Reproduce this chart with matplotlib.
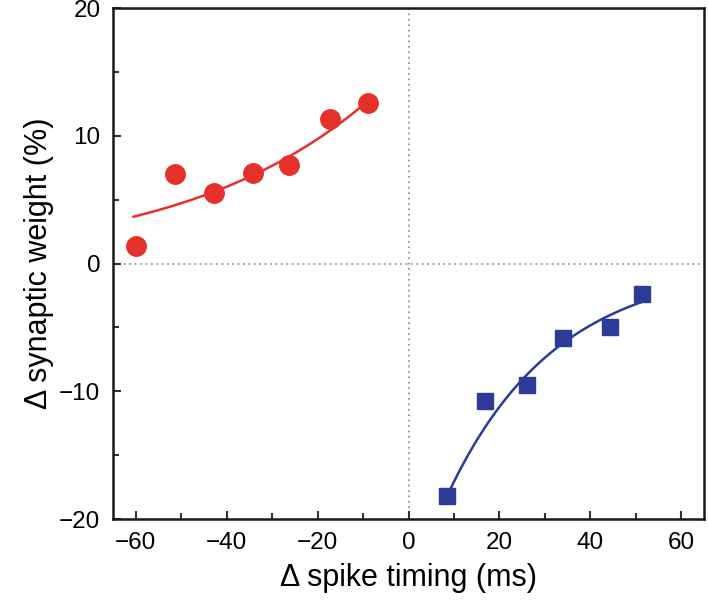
import numpy as np
import matplotlib.pyplot as plt
from matplotlib.ticker import MultipleLocator

plt.rcParams['font.family'] = ['Liberation Sans', 'DejaVu Sans']

# potenciación (pre antes que post)
ltp_dt = [-60, -51.3, -42.7, -34.3, -26.3, -17.3, -8.9]
ltp_dw = [1.4, 7.0, 5.5, 7.1, 7.7, 11.3, 12.6]
# depresión (post antes que pre)
ltd_dt = [8.5, 16.9, 26.1, 34.0, 44.4, 51.3]
ltd_dw = [-18.2, -10.8, -9.5, -5.8, -4.95, -2.35]

# ajustes exponenciales: amplitud, tau, rango
ltp_fit = (15.8, 41.4, -60.5, -9.0)
ltd_fit = (-26.0, 23.8, 8.6, 51.3)

red = '#e5302b'
blue = '#2d3a98'

fig = plt.figure(figsize=(7.08, 6.04), dpi=100)
ax = fig.add_axes([0.1596, 0.1407, 0.8348, 0.846])

ax.axhline(0, color='#999999', ls=(0, (1, 2)), lw=1.3, zorder=1)
ax.axvline(0, color='#999999', ls=(0, (1, 2)), lw=1.3, zorder=1)

a, tau, x0, x1 = ltp_fit
xs = np.linspace(x0, x1, 100)
ax.plot(xs, a * np.exp(xs / tau), color=red, lw=1.8, zorder=2)
a, tau, x0, x1 = ltd_fit
xs = np.linspace(x0, x1, 100)
ax.plot(xs, a * np.exp(-xs / tau), color=blue, lw=1.8, zorder=2)

ax.plot(ltp_dt, ltp_dw, 'o', color=red, ms=14, mec=red, zorder=3)
ax.plot(ltd_dt, ltd_dw, 's', color=blue, ms=11.5, mec=blue, zorder=3)

ax.set_xlim(-65, 65)
ax.set_ylim(-20, 20)
ax.xaxis.set_major_locator(MultipleLocator(20))
ax.xaxis.set_minor_locator(MultipleLocator(10))
ax.yaxis.set_major_locator(MultipleLocator(10))
ax.yaxis.set_minor_locator(MultipleLocator(5))
ax.tick_params(which='both', direction='in', top=False, right=False,
               labelsize=17.5, width=1.5, color='#333333')
ax.tick_params(which='major', length=6, pad=9)
ax.tick_params(which='minor', length=4)
for s in ax.spines.values():
    s.set_linewidth(1.8)
    s.set_color('#1a1a1a')

ax.set_xlabel('Δ spike timing (ms)', fontsize=22, labelpad=7)
ax.set_ylabel('Δ synaptic weight (%)', fontsize=22, labelpad=4)

fig.savefig('out.png', dpi=100)
